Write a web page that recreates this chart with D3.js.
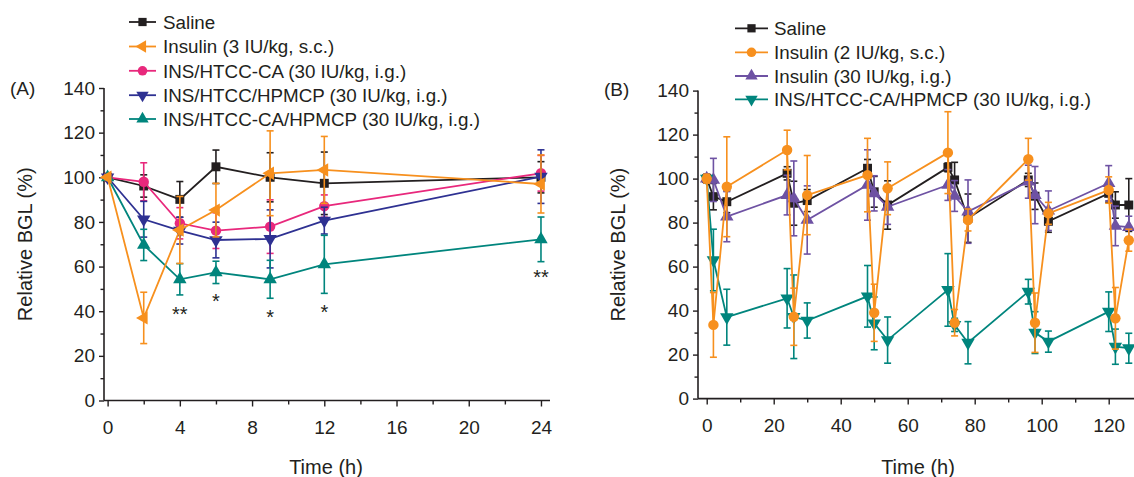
<!DOCTYPE html>
<html>
<head>
<meta charset="utf-8">
<script src="https://cdn.jsdelivr.net/npm/d3@7"></script>
<style>
  body { margin: 0; background: #fff; }
  text { font-family: "Liberation Sans", Arial, sans-serif; fill: #231f20; }
</style>
</head>
<body>
<div id="chart"></div>
<script>
// Panel A data (Relative BGL %, mean and error)
const timeA = [0, 2, 4, 6, 9, 12, 24];
const salineA = [100, 96.1, 90.1, 104.7, 100, 97.3, 100];
const salineAErr = [1, 5, 8, 7.5, 11, 14, 7];
const insulin3 = [100, 37, 76.4, 85.3, 101.8, 103.3, 97];
const insulin3Err = [1, 11.5, 15, 12, 19, 15, 13];
const htccCA = [100, 98, 79.4, 76.1, 77.9, 87.1, 101.8];
const htccCAErr = [1, 8.5, 7, 8, 12, 5, 8];
const htccHP = [100, 81.2, 76.1, 71.9, 72.4, 80.6, 100.3];
const htccHPErr = [1, 8, 6, 8, 13, 6, 12];
const htccCAHP = [100, 69.7, 54.3, 57.4, 54.3, 61, 72.2];
const htccCAHPErr = [1, 7, 7, 5, 8.5, 13, 10];

const starTimes = [4, 6, 9, 12, 24];
const starLabels = ["**", "*", "*", "*", "**"];
const starLevels = [40.6, 46.5, 39, 41.5, 57.2];

// Panel B data
const timeB = [0, 2, 6, 24, 26, 30, 48, 50, 54, 72, 74, 78, 96, 98, 102, 120, 122, 126];
const salineB = [100, 91.8, 89.5, 102.4, 88.8, 90, 104.7, 94, 88, 105.1, 99.4, 82, 99.4, 92, 80.6, 93.3, 88, 88];
const salineBErr = [2, 6, 5, 3, 10, 5, 4, 7, 11, 2, 8, 11, 3, 6, 5, 4, 6, 12];
const insulin2 = [100, 33.5, 96.3, 113, 37.2, 92.5, 101.6, 39, 95.6, 111.8, 34.5, 81.2, 108.8, 34.5, 84.2, 94.8, 36.5, 72];
const insulin2Err = [2, 14.7, 22.7, 9, 13, 18, 16.7, 13, 12, 18.6, 6, 5, 9.5, 13.5, 5, 6, 14, 5];
const insulin30 = [100, 99.4, 82.7, 92.5, 91, 81.2, 97.1, 93.3, 87.2, 97.1, 92.1, 85, 98.6, 92.5, 85.4, 97.9, 78.5, 77.9];
const insulin30Err = [2, 9.8, 11.4, 9, 17, 15.5, 16, 8, 8, 7, 7, 14.4, 7.5, 13, 9, 8, 9, 5];
const htccCAHPB = [100, 63, 37, 45.6, 37.2, 35.5, 46.5, 34.2, 26.6, 49.4, 33.5, 25.4, 48.6, 30, 25.9, 39.5, 23.6, 22.9];
const htccCAHPBErr = [1, 14, 12.7, 13.5, 19, 8, 14, 12, 10.5, 16.5, 3, 9.6, 5.6, 9.5, 4.8, 9, 8, 6.8];

const yTicks = [0, 20, 40, 60, 80, 100, 120, 140];
const xTicksA = [0, 4, 8, 12, 16, 20, 24];
const xTicksB = [0, 20, 40, 60, 80, 100, 120];

const width = 1134;
const height = 477;

const svg = d3.select("#chart").append("svg")
  .attr("width", width)
  .attr("height", height);

svg.append("rect").attr("width", width).attr("height", height).attr("fill", "#fff");

// scales
const xA = d3.scaleLinear().domain([-0.2, 24.5]).range([104, 550]);
const yA = d3.scaleLinear().domain([0, 140]).range([400.5, 88]);
const xB = d3.scaleLinear().domain([-2.6, 128.15]).range([698, 1136]);
const yB = d3.scaleLinear().domain([0, 140]).range([398.6, 90.6]);

// symbol helpers
const sym = {
  square: {type: d3.symbolSquare, size: 80, rot: 0},
  circle: {type: d3.symbolCircle, size: 85, rot: 0},
  up: {type: d3.symbolTriangle, size: 78, rot: 0},
  down: {type: d3.symbolTriangle, size: 78, rot: 180},
  left: {type: d3.symbolTriangle, size: 78, rot: -90}
};

function drawAxes(x, y, ticksX, minorX, labelX, yLabelX) {
  const gy = svg.append("g").attr("transform", `translate(${x.range()[0]},0)`);
  gy.call(d3.axisLeft(y).tickValues(yTicks).tickSize(5).tickPadding(4).tickFormat(d3.format("d")));
  gy.append("g").call(d3.axisLeft(y).tickValues(yTicks.slice(0, -1).map(v => v + 10)).tickSize(3.5).tickFormat(""))
    .select(".domain").remove();

  const gx = svg.append("g").attr("transform", `translate(0,${y(0)})`);
  gx.call(d3.axisBottom(x).tickValues(ticksX).tickSize(6).tickPadding(14).tickFormat(d3.format("d")));
  gx.append("g").call(d3.axisBottom(x).tickValues(minorX).tickSize(4).tickFormat(""))
    .select(".domain").remove();

  svg.selectAll(".domain").attr("stroke", "#231f20").attr("stroke-width", 1.6);
  svg.selectAll(".tick line").attr("stroke", "#231f20").attr("stroke-width", 1.4);
  svg.selectAll(".tick text").attr("font-size", 19).attr("fill", "#231f20")
    .attr("font-family", "Liberation Sans, Arial, sans-serif");
  gx.select(".domain").attr("d", `M${x.range()[0]},0H${x.range()[1]}`);
  gy.select(".domain").attr("d", `M0,${y.range()[0]}V${y.range()[1]}`);

  svg.append("text")
    .attr("x", labelX).attr("y", 474)
    .attr("text-anchor", "middle").attr("font-size", 20)
    .text("Time (h)");
  svg.append("text")
    .attr("transform", `translate(${yLabelX},${(y.range()[0] + y.range()[1]) / 2}) rotate(-90)`)
    .attr("text-anchor", "middle").attr("dy", "0.35em").attr("font-size", 20)
    .text("Relative BGL (%)");
}

function drawSeries(x, y, times, vals, errs, color, marker) {
  const g = svg.append("g");
  const pts = times.map((t, i) => ({t: t, v: vals[i], e: errs[i]}));
  // error bars
  pts.forEach(d => {
    const x0 = x(d.t), y1 = y(d.v + d.e), y2 = y(d.v - d.e);
    g.append("line").attr("x1", x0).attr("x2", x0).attr("y1", y1).attr("y2", y2)
      .attr("stroke", color).attr("stroke-width", 1.6);
    [y1, y2].forEach(yy => g.append("line")
      .attr("x1", x0 - 3.5).attr("x2", x0 + 3.5).attr("y1", yy).attr("y2", yy)
      .attr("stroke", color).attr("stroke-width", 1.6));
  });
  g.append("path")
    .datum(pts)
    .attr("fill", "none")
    .attr("stroke", color)
    .attr("stroke-width", 1.8)
    .attr("d", d3.line().x(d => x(d.t)).y(d => y(d.v)));
  const s = sym[marker];
  g.selectAll(".mk").data(pts).enter().append("path")
    .attr("transform", d => `translate(${x(d.t)},${y(d.v)}) rotate(${s.rot})`)
    .attr("d", d3.symbol().type(s.type).size(s.size))
    .attr("fill", color);
}

function drawLegend(items, lx1, lx2, tx, ys) {
  items.forEach((it, i) => {
    const s = sym[it.marker];
    svg.append("line").attr("x1", lx1).attr("x2", lx2).attr("y1", ys[i]).attr("y2", ys[i])
      .attr("stroke", it.color).attr("stroke-width", 1.8);
    svg.append("path")
      .attr("transform", `translate(${(lx1 + lx2) / 2},${ys[i]}) rotate(${s.rot})`)
      .attr("d", d3.symbol().type(s.type).size(s.size * 0.85))
      .attr("fill", it.color);
    svg.append("text").attr("x", tx).attr("y", ys[i]).attr("dy", "0.36em")
      .attr("font-size", 18.8).text(it.name);
  });
}

const black = "#231f20", orange = "#f7901e", pink = "#e8287c", navy = "#2e3192",
      teal = "#00857d", purple = "#6e52a3";

// Panel A
drawAxes(xA, yA, xTicksA, [2, 6, 10, 14, 18, 22], 326, 25);
drawSeries(xA, yA, timeA, salineA, salineAErr, black, "square");
drawSeries(xA, yA, timeA, htccCA, htccCAErr, pink, "circle");
drawSeries(xA, yA, timeA, htccHP, htccHPErr, navy, "down");
drawSeries(xA, yA, timeA, htccCAHP, htccCAHPErr, teal, "up");
drawSeries(xA, yA, timeA, insulin3, insulin3Err, orange, "left");

starTimes.forEach((t, i) => {
  svg.append("text").attr("x", xA(t)).attr("y", yA(starLevels[i]) + 11)
    .attr("text-anchor", "middle").attr("font-size", 20).text(starLabels[i]);
});

drawLegend([
  {name: "Saline", color: black, marker: "square"},
  {name: "Insulin (3 IU/kg, s.c.)", color: orange, marker: "left"},
  {name: "INS/HTCC-CA (30 IU/kg, i.g.)", color: pink, marker: "circle"},
  {name: "INS/HTCC/HPMCP (30 IU/kg, i.g.)", color: navy, marker: "down"},
  {name: "INS/HTCC-CA/HPMCP (30 IU/kg, i.g.)", color: teal, marker: "up"}
], 129, 156, 163, [22, 46.5, 70.8, 95.2, 119]);

svg.append("text").attr("x", 10).attr("y", 88).attr("dy", "0.36em").attr("font-size", 19).text("(A)");

// Panel B
drawAxes(xB, yB, xTicksB, [10, 30, 50, 70, 90, 110], 918, 618);
drawSeries(xB, yB, timeB, salineB, salineBErr, black, "square");
drawSeries(xB, yB, timeB, insulin30, insulin30Err, purple, "up");
drawSeries(xB, yB, timeB, htccCAHPB, htccCAHPBErr, teal, "down");
drawSeries(xB, yB, timeB, insulin2, insulin2Err, orange, "circle");

drawLegend([
  {name: "Saline", color: black, marker: "square"},
  {name: "Insulin (2 IU/kg, s.c.)", color: orange, marker: "circle"},
  {name: "Insulin (30 IU/kg, i.g.)", color: purple, marker: "up"},
  {name: "INS/HTCC-CA/HPMCP (30 IU/kg, i.g.)", color: teal, marker: "down"}
], 735, 768, 774, [28.3, 52.3, 76, 99.3]);

svg.append("text").attr("x", 604).attr("y", 89).attr("dy", "0.36em").attr("font-size", 19).text("(B)");
</script>
</body>
</html>
